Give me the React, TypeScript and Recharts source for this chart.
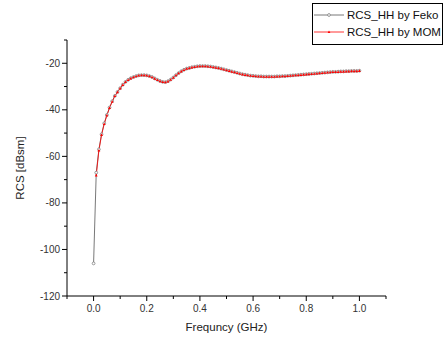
import { LineChart, Line, XAxis, YAxis } from "recharts";

const freq = [
  0.0, 0.01, 0.02, 0.03, 0.04, 0.05, 0.06, 0.07, 0.08, 0.09,
  0.1, 0.11, 0.12, 0.13, 0.14, 0.15, 0.16, 0.17, 0.18, 0.19,
  0.2, 0.21, 0.22, 0.23, 0.24, 0.25, 0.26, 0.27, 0.28, 0.29,
  0.3, 0.31, 0.32, 0.33, 0.34, 0.35, 0.36, 0.37, 0.38, 0.39,
  0.4, 0.41, 0.42, 0.43, 0.44, 0.45, 0.46, 0.47, 0.48, 0.49,
  0.5, 0.51, 0.52, 0.53, 0.54, 0.55, 0.56, 0.57, 0.58, 0.59,
  0.6, 0.61, 0.62, 0.63, 0.64, 0.65, 0.66, 0.67, 0.68, 0.69,
  0.7, 0.71, 0.72, 0.73, 0.74, 0.75, 0.76, 0.77, 0.78, 0.79,
  0.8, 0.81, 0.82, 0.83, 0.84, 0.85, 0.86, 0.87, 0.88, 0.89,
  0.9, 0.91, 0.92, 0.93, 0.94, 0.95, 0.96, 0.97, 0.98, 0.99,
  1.0,
];

const rcsFeko = [
  -106, -67, -57, -50.5, -45.8, -42.2, -39.0, -36.3, -34.0, -32.3,
  -30.7, -29.2, -28.0, -27.1, -26.4, -25.9, -25.5, -25.2, -25.1, -25.1,
  -25.2, -25.5, -25.9, -26.5, -27.1, -27.6, -28.0, -28.1, -27.7, -27.0,
  -26.1, -25.1, -24.2, -23.4, -22.8, -22.3, -22.0, -21.7, -21.5, -21.3,
  -21.2, -21.2, -21.2, -21.3, -21.4, -21.6, -21.8, -22.0, -22.3, -22.6,
  -22.9, -23.2, -23.5, -23.8, -24.1, -24.4, -24.7, -24.9, -25.1, -25.3,
  -25.4, -25.5, -25.6, -25.6, -25.7, -25.7, -25.7, -25.7, -25.7, -25.6,
  -25.6, -25.5, -25.5, -25.4, -25.3, -25.2, -25.1, -25.0, -24.9, -24.8,
  -24.7, -24.6, -24.5, -24.4, -24.3, -24.2, -24.1, -24.0, -23.9, -23.8,
  -23.7, -23.7, -23.6, -23.5, -23.5, -23.4, -23.4, -23.3, -23.3, -23.3,
  -23.2,
];

const rcsMom = [
  null, -68.2, -57.5, -50.8, -46.1, -42.4, -39.2, -36.5, -34.1, -32.4,
  -30.8, -29.3, -28.1, -27.2, -26.5, -26.0, -25.6, -25.3, -25.2, -25.2,
  -25.3, -25.6, -26.0, -26.6, -27.2, -27.7, -28.1, -28.2, -27.8, -27.1,
  -26.2, -25.2, -24.3, -23.5, -22.9, -22.4, -22.1, -21.8, -21.6, -21.4,
  -21.3, -21.3, -21.3, -21.4, -21.5, -21.7, -21.9, -22.1, -22.4, -22.7,
  -23.0, -23.3, -23.6, -23.9, -24.2, -24.5, -24.8, -25.0, -25.2, -25.4,
  -25.5, -25.6, -25.7, -25.7, -25.8, -25.8, -25.8, -25.8, -25.8, -25.7,
  -25.7, -25.6, -25.6, -25.5, -25.4, -25.3, -25.2, -25.1, -25.0, -24.9,
  -24.8, -24.7, -24.6, -24.5, -24.4, -24.3, -24.2, -24.1, -24.0, -23.9,
  -23.8, -23.8, -23.7, -23.6, -23.6, -23.5, -23.5, -23.4, -23.4, -23.4,
  -23.3,
];

const xMajor = [0, 0.2, 0.4, 0.6, 0.8, 1.0];
const xMinor = [-0.1, 0.1, 0.3, 0.5, 0.7, 0.9, 1.1];
const yMajor = [-120, -100, -80, -60, -40, -20];
const yMinor = [-110, -90, -70, -50, -30, -10];

const data = freq.map((f, i) => ({ f, feko: rcsFeko[i], mom: rcsMom[i] }));

const FONT = "Arial, 'Liberation Sans', sans-serif";

const isMajor = (v: number, list: number[]) => list.some((m) => Math.abs(m - v) < 1e-6);

function XTick(props: any) {
  const { x, y, payload } = props;
  const major = isMajor(payload.value, xMajor);
  return (
    <g>
      <line x1={x} y1={y} x2={x} y2={y + (major ? 5 : 3)} stroke="#000" strokeWidth={1} />
      {major && (
        <text x={x} y={y + 16} textAnchor="middle" fontSize={10} fill="#333" fontFamily={FONT}>
          {payload.value.toFixed(1)}
        </text>
      )}
    </g>
  );
}

function YTick(props: any) {
  const { x, y, payload } = props;
  const major = isMajor(payload.value, yMajor);
  return (
    <g>
      <line x1={x} y1={y} x2={x - (major ? 5 : 3)} y2={y} stroke="#000" strokeWidth={1} />
      {major && (
        <text x={x - 7} y={y + 3.5} textAnchor="end" fontSize={10} fill="#333" fontFamily={FONT}>
          {payload.value}
        </text>
      )}
    </g>
  );
}

function CircleDot(props: any) {
  const { cx, cy, value } = props;
  if (value == null || cx == null) return null;
  return <circle cx={cx} cy={cy} r={1.4} fill="#fff" stroke="#808080" strokeWidth={0.8} />;
}

function TriDot(props: any) {
  const { cx, cy, value } = props;
  if (value == null || cx == null) return null;
  return (
    <path
      d={`M${cx},${cy - 1.6} L${cx + 1.4},${cy + 1} L${cx - 1.4},${cy + 1} Z`}
      fill="#ff0000"
      stroke="none"
    />
  );
}

export default function App() {
  return (
    <div style={{ position: "absolute", left: 0, top: 0, width: 445, height: 338, background: "#fff", fontFamily: FONT }}>
      <LineChart width={445} height={338} data={data} margin={{ top: 40, right: 59, bottom: 0, left: 0 }}>
        <XAxis
          dataKey="f"
          type="number"
          domain={[-0.1, 1.1]}
          ticks={[...xMinor, ...xMajor].sort((a, b) => a - b)}
          height={42}
          tickSize={0}
          tickMargin={0}
          tickLine={false}
          stroke="#000"
          tick={<XTick />}
          interval={0}
          allowDataOverflow
          label={{ value: "Frequncy (GHz)", position: "insideBottom", offset: 7, style: { fontSize: 11.5, fill: "#222", fontFamily: FONT } }}
        />
        <YAxis
          type="number"
          domain={[-120, -10]}
          ticks={[...yMinor, ...yMajor].sort((a, b) => a - b)}
          width={67}
          tickSize={0}
          tickMargin={0}
          tickLine={false}
          stroke="#000"
          tick={<YTick />}
          interval={0}
          allowDataOverflow
          label={{ value: "RCS [dBsm]", angle: -90, position: "insideLeft", offset: 20, style: { fontSize: 11.5, fill: "#222", fontFamily: FONT, textAnchor: "middle" } }}
        />
        <Line
          dataKey="feko"
          stroke="#555"
          strokeWidth={0.8}
          dot={<CircleDot />}
          activeDot={false}
          isAnimationActive={false}
        />
        <Line
          dataKey="mom"
          stroke="#ff0000"
          strokeWidth={0.8}
          dot={<TriDot />}
          activeDot={false}
          connectNulls={false}
          isAnimationActive={false}
        />
      </LineChart>
      <div
        style={{
          position: "absolute",
          left: 312,
          top: 3,
          width: 131,
          height: 42,
          border: "1px solid #000",
          boxSizing: "border-box",
          background: "#fff",
          fontSize: 11.5,
          color: "#111",
        }}
      >
        <div style={{ position: "absolute", top: 4, left: 0, display: "flex", alignItems: "center", height: 14 }}>
          <svg width={34} height={10}>
            <line x1={1} y1={5} x2={31} y2={5} stroke="#555" strokeWidth={0.8} />
            <circle cx={16} cy={5} r={1.4} fill="#fff" stroke="#808080" strokeWidth={0.8} />
          </svg>
          <span>RCS_HH by Feko</span>
        </div>
        <div style={{ position: "absolute", top: 21, left: 0, display: "flex", alignItems: "center", height: 14 }}>
          <svg width={34} height={10}>
            <line x1={1} y1={5} x2={31} y2={5} stroke="#ff0000" strokeWidth={0.8} />
            <path d="M16,3.4 L17.4,6 L14.6,6 Z" fill="#ff0000" />
          </svg>
          <span>RCS_HH by MOM</span>
        </div>
      </div>
    </div>
  );
}
